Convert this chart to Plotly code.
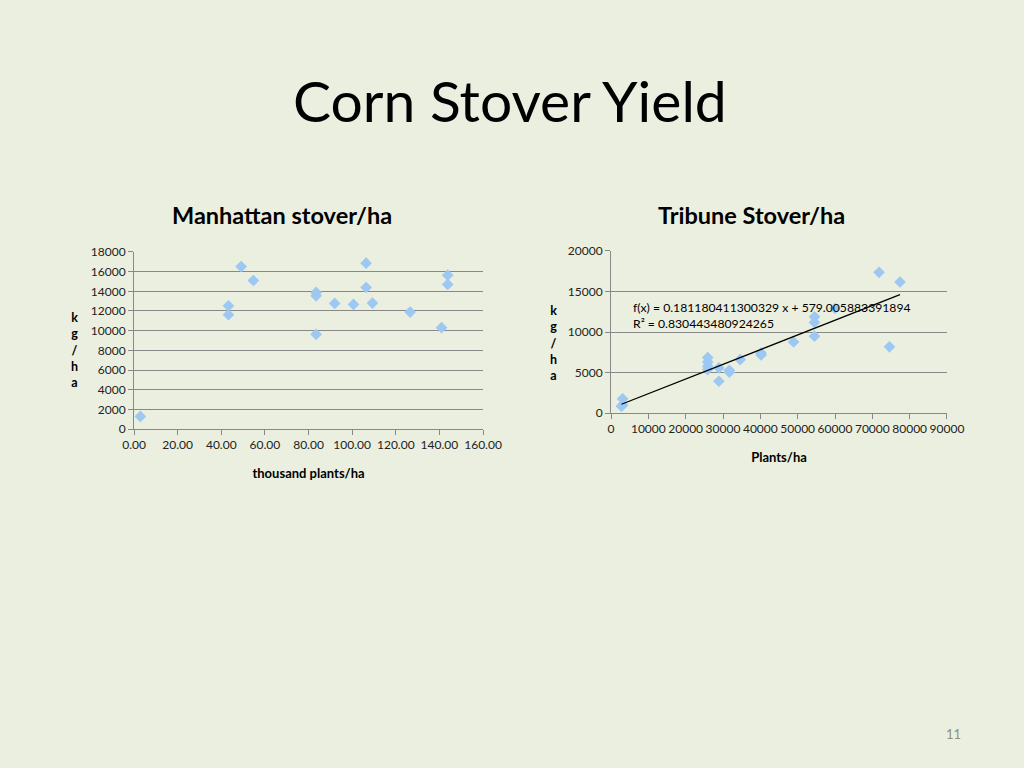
import plotly.graph_objects as go

# Manhattan: thousand plants/ha vs kg/ha
manhattan_x = [2.9, 43.3, 43.3, 49.1, 54.7, 83.5, 83.5, 83.5, 92.0, 100.6,
               106.4, 106.4, 109.3, 126.6, 141.0, 143.8, 143.8]
manhattan_y = [1280, 12530, 11620, 16520, 15100, 13890, 13540, 9630, 12770, 12670,
               16860, 14390, 12800, 11890, 10300, 15640, 14700]

# Tribune: plants/ha vs kg/ha
tribune_x = [3100, 3100, 2800, 25900, 25900, 25900, 25900, 28900, 28900, 31700,
             31700, 34600, 40200, 40200, 48900, 54500, 54500, 54500, 60000,
             71800, 77400, 74600]
tribune_y = [1750, 1000, 850, 6850, 6300, 5770, 5360, 5570, 3920, 5280,
             5030, 6600, 7420, 7170, 8780, 11870, 11180, 9490, 12900,
             17370, 16170, 8170]

# linear trend as reported on the slide
trend_slope = 0.181180411300329
trend_intercept = 579.005883391894
trend_r2 = 0.830443480924265

left_yticks = list(range(0, 18001, 2000))
left_xticks = list(range(0, 161, 20))
right_yticks = list(range(0, 20001, 5000))
right_xticks = list(range(0, 90001, 10000))

BG = "#ebefdf"
MARKER = "#9cc8f2"
GRID = "#888888"
FONT = "Lato"

trend_x = [min(tribune_x), max(tribune_x)]
trend_y = [trend_slope * v + trend_intercept for v in trend_x]

fig = go.Figure()

fig.add_trace(go.Scatter(
    x=manhattan_x, y=manhattan_y, mode="markers",
    marker=dict(symbol="diamond", size=9, color=MARKER),
    xaxis="x", yaxis="y", showlegend=False,
))
fig.add_trace(go.Scatter(
    x=tribune_x, y=tribune_y, mode="markers",
    marker=dict(symbol="diamond", size=9, color=MARKER),
    xaxis="x2", yaxis="y2", showlegend=False,
))
fig.add_trace(go.Scatter(
    x=trend_x, y=trend_y, mode="lines",
    line=dict(color="black", width=1.3),
    xaxis="x2", yaxis="y2", showlegend=False,
))

axis_common = dict(
    showline=True, linecolor=GRID, linewidth=1,
    ticks="outside", ticklen=5, tickcolor=GRID,
    tickfont=dict(family=FONT, size=12, color="#222"),
    zeroline=False, automargin=False, tickangle=0,
)

fig.update_layout(
    width=1024, height=768,
    margin=dict(l=0, r=0, t=0, b=0),
    paper_bgcolor=BG, plot_bgcolor=BG,
    font=dict(family=FONT, color="black"),
    xaxis=dict(domain=[0.1309, 0.4717], range=[0, 160], tickvals=left_xticks,
               tickformat=".2f", showgrid=False, anchor="y",
               title=dict(text="<b>thousand plants/ha</b>", font=dict(size=13), standoff=17),
               **axis_common),
    yaxis=dict(domain=[0.4414, 0.6719], range=[0, 18000], tickvals=left_yticks,
               tickformat="d", showgrid=True, gridcolor=GRID, anchor="x", **axis_common),
    xaxis2=dict(domain=[0.5967, 0.9248], range=[0, 90000], tickvals=right_xticks,
                tickformat="d", showgrid=False, anchor="y2",
                title=dict(text="<b>Plants/ha</b>", font=dict(size=13), standoff=17),
                **axis_common),
    yaxis2=dict(domain=[0.4622, 0.6732], range=[0, 20000], tickvals=right_yticks,
                tickformat="d", showgrid=True, gridcolor=GRID, anchor="x2", **axis_common),
)

annotations = [
    dict(text="Corn Stover Yield", x=510 / 1024, y=1 - 100 / 768, font=dict(size=57)),
    dict(text="<b>Manhattan stover/ha</b>", x=282 / 1024, y=1 - 215 / 768, font=dict(size=23.5)),
    dict(text="<b>Tribune Stover/ha</b>", x=751 / 1024, y=1 - 215 / 768, font=dict(size=23.5)),
    dict(text="<b>k<br>g<br>/<br>h<br>a</b>", x=74 / 1024, y=1 - 350 / 768, font=dict(size=12.5)),
    dict(text="<b>k<br>g<br>/<br>h<br>a</b>", x=553 / 1024, y=1 - 343 / 768, font=dict(size=12.5)),
    dict(text="11", x=953 / 1024, y=1 - 734 / 768, font=dict(size=13, color="#8a8f80")),
]
for a in annotations:
    fig.add_annotation(xref="paper", yref="paper", showarrow=False,
                       xanchor="center", yanchor="middle", **a)

fig.add_annotation(
    xref="paper", yref="paper", x=631 / 1024, y=1 - 315 / 768,
    xanchor="left", yanchor="middle", align="left", showarrow=False,
    text=f"f(x) = {trend_slope} x + {trend_intercept}<br>R² = {trend_r2}",
    font=dict(size=12.2, color="black"),
)

fig.write_html("out.html", config={"displayModeBar": False},
               post_script="document.body.style.margin='0';")
